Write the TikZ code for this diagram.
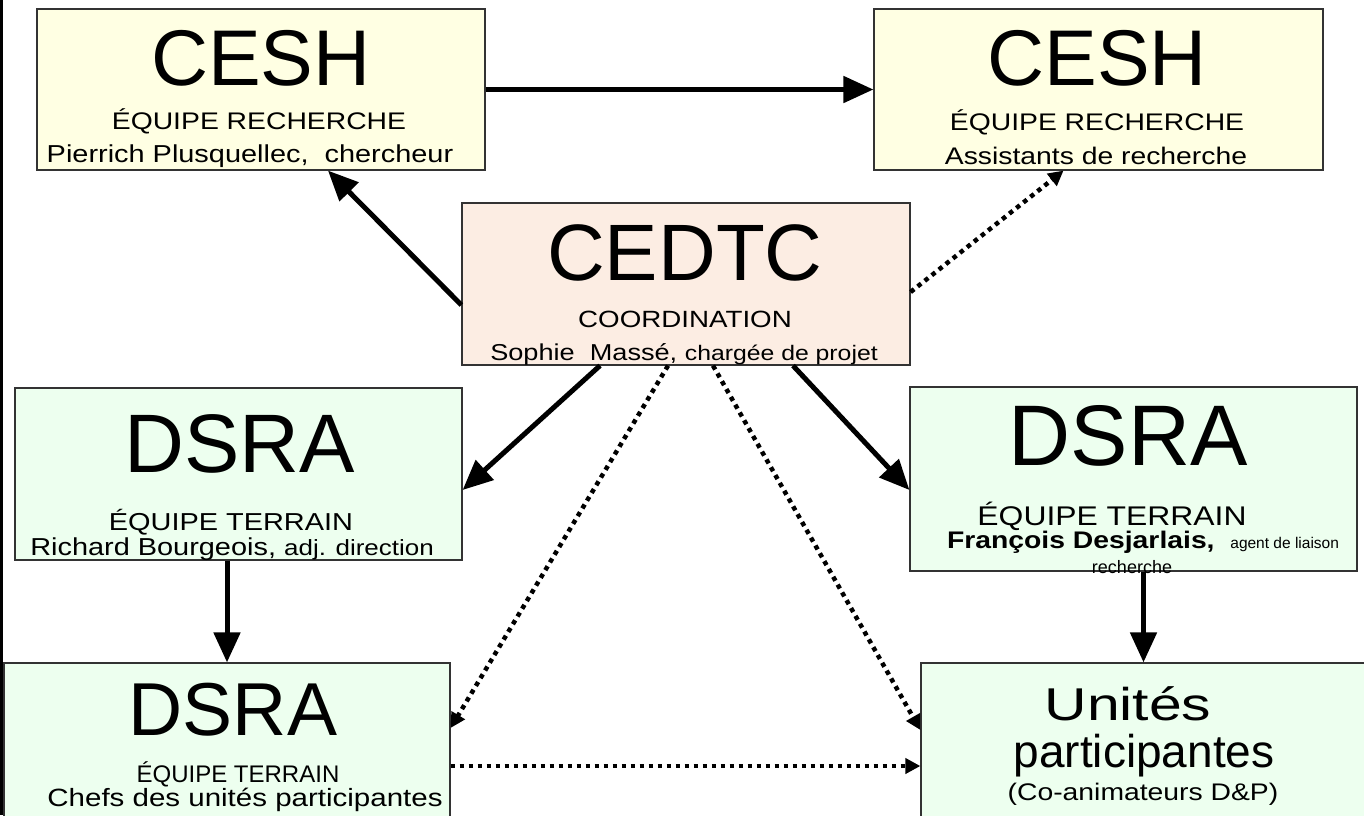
\documentclass[tikz,border=0pt]{standalone}
\usepackage{fontspec}
\setmainfont{Liberation Sans}
\newfontfamily\wide[FakeStretch=1.18]{Liberation Sans}
\usetikzlibrary{arrows.meta}
\newcommand\fsz[1]{\fontsize{#1}{#1}\selectfont}
\definecolor{ceshfill}{HTML}{FFFFE3}
\definecolor{cedtcfill}{HTML}{FCEDE3}
\definecolor{dsrafill}{HTML}{EDFFEF}

\begin{document}
\begin{tikzpicture}[x=1pt,y=-1pt,
  box/.style={draw=black!80,line width=1.2pt,inner sep=0pt},
  txt/.style={anchor=base,inner sep=0pt},
  solidarr/.style={line width=5pt,-{Triangle[length=30pt,width=26pt]}},
  dotarr/.style={line width=4.5pt,dash pattern=on 4.5pt off 4.5pt,-{Triangle[length=15pt,width=15pt]}}]
\useasboundingbox (0,0) rectangle (1364,815);
\fill[white] (0,0) rectangle (1364,815);
\draw[line width=3pt] (1.5,0) -- (1.5,815);
\node[box,fill=ceshfill,minimum width=448pt,minimum height=161pt] (ceshL) at (261,89.5) {};
\node[box,fill=ceshfill,minimum width=449pt,minimum height=161pt] (ceshR) at (1098.5,89.5) {};
\node[box,fill=cedtcfill,minimum width=448pt,minimum height=162pt] (cedtc) at (686,284) {};
\node[box,fill=dsrafill,minimum width=447pt,minimum height=172pt] (dsraA) at (238.5,474) {};
\node[box,fill=dsrafill,minimum width=447pt,minimum height=184pt] (dsraB) at (1133.5,479) {};
\node[box,fill=dsrafill,minimum width=446pt,minimum height=167pt] (dsraC) at (227,746.5) {};
\node[box,fill=dsrafill,minimum width=445pt,minimum height=167pt] (unites) at (1143.5,746.5) {};
\node[txt] (ceshLa) at (261,85) {\fsz{79}CESH};
\node[txt] (ceshLb) at (259,129) {\wide\fsz{24}ÉQUIPE RECHERCHE};
\node[txt] (ceshLc) at (250,162) {\wide\fsz{24.5}Pierrich Plusquellec,\ \ chercheur};
\node[txt] (ceshRa) at (1097,85) {\fsz{79}CESH};
\node[txt] (ceshRb) at (1097,130) {\wide\fsz{24}ÉQUIPE RECHERCHE};
\node[txt] (ceshRc) at (1096,164) {\wide\fsz{24}Assistants de recherche};
\node[txt] (cedtca) at (685,280) {\fsz{80}CEDTC};
\node[txt] (cedtcb) at (685,327) {\wide\fsz{23.5}COORDINATION};
\node[txt] (cedtcc) at (684,360) {\wide\fsz{23}Sophie\ \ Massé, \fsz{21}chargée de projet};
\node[txt] (dsraAa) at (240,472) {\fsz{83}DSRA};
\node[txt] (dsraAb) at (231,530) {\wide\fsz{24.5}ÉQUIPE TERRAIN};
\node[txt] (dsraAc) at (232,555) {\wide\fsz{24.5}Richard Bourgeois,\ \fsz{22}adj. direction};
\node[txt] (dsraBa) at (1128,465) {\fsz{86}DSRA};
\node[txt] (dsraBb) at (1112,525) {\wide\fsz{27}ÉQUIPE TERRAIN};
\node[txt] (dsraBc) at (1143,548) {\wide\fsz{24}\textbf{François Desjarlais,}\ \ \normalfont\fsz{15.5}agent de liaison};
\node[txt] (dsraBd) at (1132,573) {\fsz{18}recherche};
\node[txt] (dsraCa) at (233,735) {\fsz{75}DSRA};
\node[txt] (dsraCb) at (238,782) {\fsz{24}ÉQUIPE TERRAIN};
\node[txt] (dsraCc) at (245,806) {\wide\fsz{25}Chefs des unités participantes};
\node[txt] (unitesa) at (1128,720) {\scalebox{1.28}[1]{\fsz{46}Unités}};
\node[txt] (unitesb) at (1144,767) {\fsz{46}participantes};
\node[txt] (unitesc) at (1143,800) {\wide\fsz{24}(Co-animateurs D\&P)};
\draw[solidarr] (ceshL) -- (ceshR);
\draw[solidarr] ([yshift=-21pt]cedtc.west) -- ([xshift=67pt]ceshL.south);
\draw[dotarr] ([yshift=-8pt]cedtc.east) -- ([xshift=-35pt]ceshR.south);
\draw[solidarr] ([xshift=-86pt]cedtc.south) -- ([yshift=-16pt]dsraA.east);
\draw[solidarr] ([xshift=107pt]cedtc.south) -- ([yshift=-11pt]dsraB.west);
\draw[dotarr] ([xshift=-18pt]cedtc.south) -- ([yshift=18.5pt]dsraC.east);
\draw[dotarr] ([xshift=27pt]cedtc.south) -- ([yshift=16.5pt]unites.west);
\draw[dotarr] ([yshift=-19.5pt]dsraC.east) -- ([yshift=-19.5pt]unites.west);
\draw[solidarr] (dsraA.south -| dsraC.north) -- (dsraC.north);
\draw[solidarr] (dsraB.south -| unites.north) -- (unites.north);
\end{tikzpicture}
\end{document}
